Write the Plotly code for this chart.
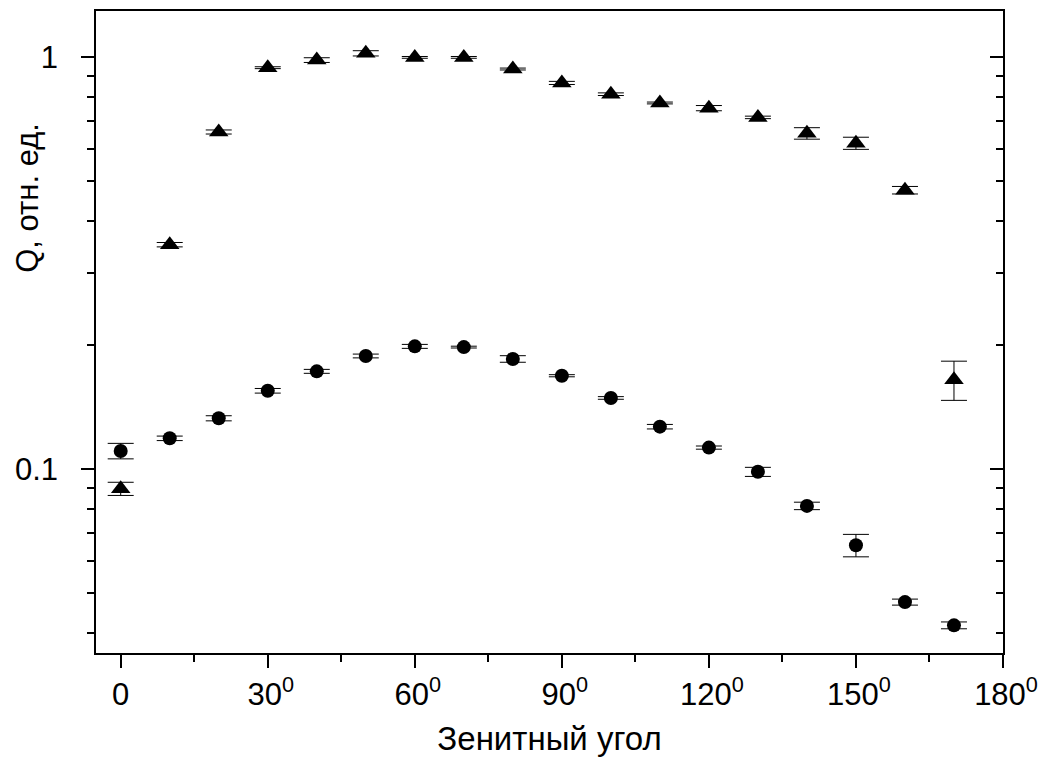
import plotly.graph_objects as go

# ---- data ----
angles = [0, 10, 20, 30, 40, 50, 60, 70, 80, 90, 100, 110, 120, 130, 140, 150, 160, 170]

tri_q = [0.0897, 0.351, 0.659, 0.944, 0.985, 1.023, 1.000, 1.000, 0.937, 0.867,
         0.814, 0.775, 0.753, 0.715, 0.654, 0.619, 0.476, 0.165]
tri_err = [0.0033, 0.0043, 0.0075, 0.005, 0.013, 0.015, 0.005, 0.005, 0.005, 0.0075,
           0.006, 0.004, 0.011, 0.005, 0.021, 0.021, 0.010, 0.018]

circ_q = [0.1108, 0.1189, 0.1330, 0.1551, 0.1729, 0.1884, 0.1988, 0.1980, 0.1853, 0.1687,
          0.1490, 0.1269, 0.1129, 0.0986, 0.0815, 0.0654, 0.0476, 0.0418]
circ_err = [0.0048, 0.0015, 0.0019, 0.0020, 0.0019, 0.0020, 0.0022, 0.0010, 0.0034, 0.0010,
            0.0011, 0.0016, 0.0010, 0.0025, 0.0017, 0.0041, 0.0008, 0.0008]

x_tick_vals = [0, 30, 60, 90, 120, 150, 180]
x_tick_nums = ["0", "30", "60", "90", "120", "150", "180"]
x_minor_vals = [15, 45, 75, 105, 135, 165]
y_tick_vals = [0.1, 1]
y_tick_text = ["0.1", "1"]
y_minor_vals = [0.04, 0.05, 0.06, 0.07, 0.08, 0.09, 0.2, 0.3, 0.4, 0.5, 0.6, 0.7, 0.8, 0.9]

x_title = "Зенитный угол"
y_title = "Q, отн. ед."

# degree-style superscript; a small blank superscript on the left keeps the digits near the tick
x_tick_text = [n if n == "0" else "<sup>\u00a0</sup>" + n + "<sup>0</sup>" for n in x_tick_nums]

FONT = "Arial, Liberation Sans, sans-serif"

# the HTML page body has an 8 px default margin: shrink the figure so it fits the window
PAGE_PAD = 8

fig = go.Figure()
fig.add_trace(go.Scatter(
    x=angles, y=tri_q, mode="markers",
    marker=dict(symbol="triangle-up", size=17, color="black"),
    error_y=dict(type="data", array=tri_err, color="black", thickness=1, width=13),
    showlegend=False,
))
fig.add_trace(go.Scatter(
    x=angles, y=circ_q, mode="markers",
    marker=dict(symbol="circle", size=14, color="black"),
    error_y=dict(type="data", array=circ_err, color="black", thickness=1, width=13),
    showlegend=False,
))
# empty trace that registers the right-hand mirror axis
fig.add_trace(go.Scatter(x=[], y=[], yaxis="y2", showlegend=False, hoverinfo="skip"))

yrange = [-1.446, 0.1126]

fig.update_layout(
    width=1046 - PAGE_PAD, height=769 - PAGE_PAD,
    margin=dict(l=96 - PAGE_PAD, r=43, t=11 - PAGE_PAD, b=116, pad=0),
    paper_bgcolor="white", plot_bgcolor="white",
    font=dict(family=FONT, size=30, color="black"),
    xaxis=dict(
        range=[-5.04, 180], showgrid=False, zeroline=False, automargin=False,
        showline=True, linecolor="black", linewidth=1.5, mirror=True,
        ticks="outside", ticklen=13, tickwidth=1.5, tickcolor="black",
        tickmode="array", tickvals=x_tick_vals, ticktext=x_tick_text,
        tickfont=dict(size=31),
        minor=dict(tickmode="array", tickvals=x_minor_vals, ticks="outside",
                   ticklen=7, tickwidth=1.5, tickcolor="black", showgrid=False),
        title=dict(text=x_title, font=dict(size=33), standoff=16),
    ),
    yaxis=dict(
        type="log", range=yrange, showgrid=False, zeroline=False, automargin=False,
        showline=True, linecolor="black", linewidth=1.5, mirror=False,
        ticks="outside", ticklen=13, tickwidth=1.5, tickcolor="black",
        tickmode="array", tickvals=y_tick_vals, ticktext=y_tick_text,
        tickfont=dict(size=31), ticklabelstandoff=17,
        minor=dict(tickmode="array", tickvals=y_minor_vals, ticks="outside",
                   ticklen=7, tickwidth=1.5, tickcolor="black", showgrid=False),
    ),
    yaxis2=dict(
        type="log", range=yrange, overlaying="y", side="right", automargin=False,
        showgrid=False, zeroline=False,
        showline=True, linecolor="black", linewidth=1.5,
        ticks="inside", ticklen=13, tickwidth=1.5, tickcolor="black",
        tickmode="array", tickvals=y_tick_vals, showticklabels=False,
        minor=dict(tickmode="array", tickvals=y_minor_vals, ticks="inside",
                   ticklen=7, tickwidth=1.5, tickcolor="black", showgrid=False),
    ),
    annotations=[dict(
        text=y_title, textangle=-90, showarrow=False,
        xref="paper", yref="paper", x=-0.075, y=0.709,
        xanchor="center", yanchor="middle", borderpad=0,
        font=dict(family=FONT, size=31, color="black"),
    )],
)

fig.write_html("out.html")
